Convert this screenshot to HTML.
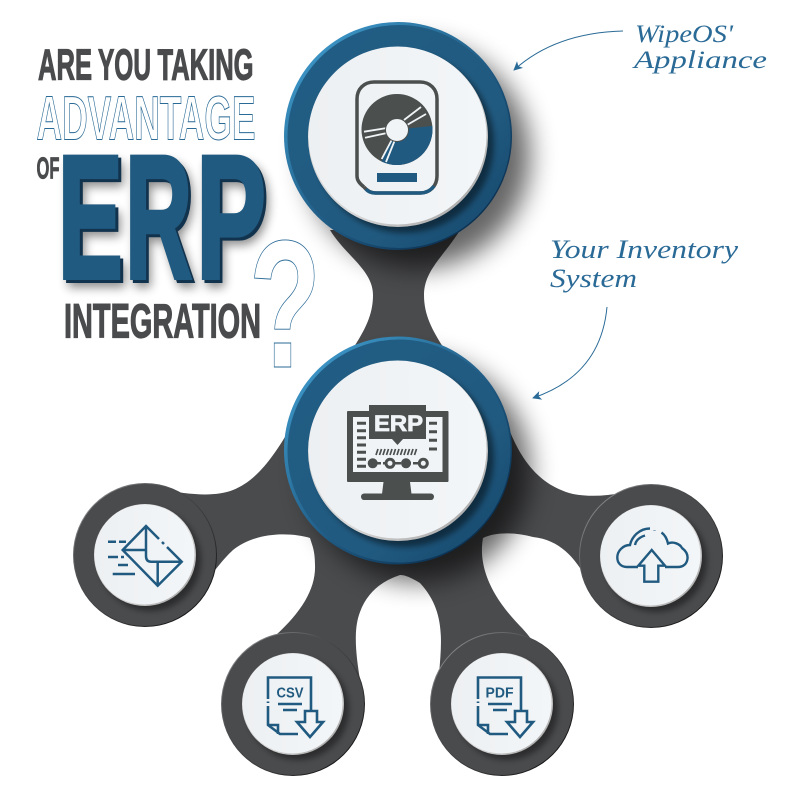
<!DOCTYPE html>
<html><head><meta charset="utf-8"><style>
html,body{margin:0;padding:0;background:#fff}
svg{display:block}
.b{font-family:"Liberation Sans",sans-serif;font-weight:700}
.s{font-family:"Liberation Serif",serif;font-style:italic;fill:#2a6a96}
</style></head><body>
<svg width="800" height="798" viewBox="0 0 800 798" xmlns="http://www.w3.org/2000/svg">
<defs>
<filter id="bl" x="-50%" y="-50%" width="200%" height="200%"><feGaussianBlur stdDeviation="13"/></filter>
<filter id="bs" x="-30%" y="-30%" width="160%" height="160%"><feGaussianBlur stdDeviation="3"/></filter>
<filter id="bt" x="-30%" y="-30%" width="160%" height="160%"><feGaussianBlur stdDeviation="5"/></filter>
<linearGradient id="edge" x1="0.1" y1="0.1" x2="0.9" y2="0.9"><stop offset="0" stop-color="#3d98c9"/><stop offset=".5" stop-color="#22608a"/><stop offset="1" stop-color="#082b4b"/></linearGradient>
<linearGradient id="ring" x1="0" y1="0" x2="1" y2="1"><stop offset="0" stop-color="#215d85"/><stop offset=".65" stop-color="#215a80"/><stop offset="1" stop-color="#144569"/></linearGradient>
<linearGradient id="wh" x1="0" y1="0" x2="1" y2="0"><stop offset="0" stop-color="#edf0f2"/><stop offset="1" stop-color="#f3f6f8"/></linearGradient>
<linearGradient id="wedge" x1="0.1" y1="0.1" x2="0.9" y2="0.9"><stop offset="0" stop-color="#d8d8d8"/><stop offset=".6" stop-color="#d8d8d8"/><stop offset="1" stop-color="#a9a9a9"/></linearGradient>
<linearGradient id="sedge" x1="0.1" y1="0.1" x2="0.9" y2="0.9"><stop offset="0" stop-color="#8d8e90"/><stop offset=".35" stop-color="#4a4b4d"/><stop offset=".7" stop-color="#333"/><stop offset="1" stop-color="#0e0e0e"/></linearGradient>
<marker id="ah" viewBox="0 0 10 10" refX="9" refY="5" markerWidth="9" markerHeight="9" orient="auto-start-reverse" markerUnits="userSpaceOnUse"><path d="M0 0L10 5L0 10L2.500 5Z" fill="#2a6a96"/></marker>
</defs>

<!-- connectors -->
<path fill="#4a4b4d" d="M330 230C345 255 373 270 373 295C373 315 365 330 352 350L445 350C432 330 424 315 424 295C424 270 445 255 460 230Z"/>
<path fill="#4a4b4d" d="M160 489C190 495 215 497 233 490C258 480 275 455 295 420L503 415C512 435 525 482 573 494C590 497 605 496 622 493L651 556L586 578C575 558 560 540 533 537C515 532 495 532 483 538C479 560 485 590 520 626C526 632 532 640 538 648L502 704L439 674C442 640 445 610 420 583C410 577 405 575 400 575C385 580 368 590 360 612C353 630 356 655 360 680L293 704L268 642C300 615 316 590 315 565C315 550 312 545 310 538C290 532 255 532 233 550C222 560 216 570 208 578L145 555Z"/>

<!-- big shadows -->
<circle cx="418" cy="156" r="112" fill="#000" opacity=".6" filter="url(#bl)"/>
<circle cx="418" cy="470" r="112" fill="#000" opacity=".6" filter="url(#bl)"/>

<!-- top circle -->
<circle cx="398" cy="136" r="114" fill="url(#edge)"/>
<circle cx="399" cy="136.500" r="111.500" fill="url(#ring)"/>
<circle cx="404" cy="143" r="90" fill="#000" opacity=".45" filter="url(#bs)"/>
<circle cx="398" cy="137" r="90" fill="url(#wedge)"/>
<circle cx="397.500" cy="135.500" r="89" fill="url(#wh)"/>

<!-- ERP circle -->
<circle cx="398" cy="450.500" r="114" fill="url(#edge)"/>
<circle cx="399" cy="451" r="111.500" fill="url(#ring)"/>
<circle cx="404" cy="457" r="90" fill="#000" opacity=".45" filter="url(#bs)"/>
<circle cx="398" cy="451" r="90" fill="url(#wedge)"/>
<circle cx="397.500" cy="449.500" r="89" fill="url(#wh)"/>

<!-- small circles -->
<circle cx="145" cy="555" r="72" fill="url(#sedge)"/><circle cx="145" cy="555" r="71" fill="#4a4b4d"/>
<circle cx="150" cy="560" r="51" fill="#000" opacity=".4" filter="url(#bs)"/>
<circle cx="145" cy="555" r="51" fill="url(#wedge)"/><circle cx="144.500" cy="554.500" r="50" fill="url(#wh)"/>

<circle cx="293" cy="704" r="72" fill="url(#sedge)"/><circle cx="293" cy="704" r="71" fill="#4a4b4d"/>
<circle cx="298" cy="709" r="51" fill="#000" opacity=".4" filter="url(#bs)"/>
<circle cx="293" cy="704" r="51" fill="url(#wedge)"/><circle cx="292.500" cy="703.500" r="50" fill="url(#wh)"/>

<circle cx="502" cy="704" r="72" fill="url(#sedge)"/><circle cx="502" cy="704" r="71" fill="#4a4b4d"/>
<circle cx="507" cy="709" r="51" fill="#000" opacity=".4" filter="url(#bs)"/>
<circle cx="502" cy="704" r="51" fill="url(#wedge)"/><circle cx="501.500" cy="703.500" r="50" fill="url(#wh)"/>

<circle cx="651" cy="556" r="72" fill="url(#sedge)"/><circle cx="651" cy="556" r="71" fill="#4a4b4d"/>
<circle cx="656" cy="561" r="51" fill="#000" opacity=".4" filter="url(#bs)"/>
<circle cx="651" cy="556" r="51" fill="url(#wedge)"/><circle cx="650.500" cy="555.500" r="50" fill="url(#wh)"/>

<!-- HDD icon -->
<path d="M364 187C368 192 372 193 376 193H420C430 193 437 186 437 176V99C437 89 430 82 420 82H374C364 82 357 89 357 99V176C357 180 359 183 364 187" fill="none" stroke="#4b4f4e" stroke-width="3.500"/>
<path d="M366 189C368 192 372 193 376 193H420C426 193 431 190 434 186" fill="none" stroke="#215a80" stroke-width="3.500"/>
<circle cx="397" cy="129.500" r="35.500" fill="#4b4f4e"/>
<path d="M397 129.500L432.300 126A35.500 35.500 0 0 1 381.500 161.500Z" fill="#215a80"/>
<path d="M404 120L421 107M407 125L426 114" stroke="#f1f4f6" stroke-width="1.800"/>
<path d="M364 131.700L387 128M365 137.700L387 133" stroke="#f1f4f6" stroke-width="1.800"/>
<path d="M391.700 140L381.700 159M394.500 141L386 162" stroke="#f1f4f6" stroke-width="1.800"/>
<circle cx="397" cy="130" r="11.500" fill="#f1f4f6" stroke="#4b4f4e" stroke-width="1"/>
<rect x="377" y="173" width="40" height="9" fill="#215a80"/>

<!-- ERP monitor icon -->
<rect x="347" y="411" width="101.500" height="71" rx="1" fill="#4b4f4e"/>
<rect x="353" y="417" width="89.500" height="55" fill="#f1f4f6"/>
<path d="M369 405H426V439H403L397.500 445L392 439H369Z" fill="#4b4f4e"/>
<text x="374" y="431" class="b" font-size="22" fill="#f1f4f6" stroke="#f1f4f6" stroke-width=".8" textLength="49" lengthAdjust="spacingAndGlyphs">ERP</text>
<path d="M357 423.300H366M357 430.700H366M357 437.700H366M357 445H366M357 452.300H366M357 459.300H366M357 466.300H366M429 423.300H437M429 431.700H437M429 440.300H437M429 449H437" stroke="#4b4f4e" stroke-width="3"/>
<path d="M376 455L378 449M379.500 455L381.500 449M383 455L385 449M386.500 455L388.500 449M390 455L392 449M393.500 455L395.500 449M397 455L399 449M400.500 455L402.500 449M404 455L406 449M407.500 455L409.500 449M411 455L413 449M414.500 455L416.500 449" stroke="#4b4f4e" stroke-width="1.700"/>
<path d="M373 463.300H423" stroke="#4b4f4e" stroke-width="2.500" stroke-dasharray="8 2"/>
<circle cx="372.700" cy="463.300" r="5" fill="#4b4f4e"/>
<circle cx="390" cy="463.300" r="4" fill="#f1f4f6" stroke="#4b4f4e" stroke-width="3"/>
<circle cx="406" cy="463.300" r="5" fill="#4b4f4e"/>
<circle cx="423.300" cy="463.300" r="4" fill="#f1f4f6" stroke="#4b4f4e" stroke-width="3"/>
<path d="M383.500 482H410L411.500 494H382Z" fill="#4b4f4e"/>
<rect x="361" y="493.500" width="73" height="6.500" rx="3.200" fill="#4b4f4e"/>

<!-- mail icon -->
<g fill="none" stroke="#215a80" stroke-width="2.500">
<path d="M159 539L146 526L122.700 550L157.700 585.700L181.700 561.700L167 547M162 542L164 544"/>
<path d="M122.700 550H146V556Q146 561.700 151 561.700H181.700M146 526V550M157.700 561.700V585.700"/>
<path d="M108 541.700H116M119 541.700H126M108 557H118M121 557H124M118 565H128M112.700 574H135"/>
</g>

<!-- CSV icon -->
<g fill="none" stroke="#215a80" stroke-width="2.600">
<path d="M268 699V677.500H311V710M268 701.500V703M268 706V725L280 734H298"/>
<path d="M268 725H278V734"/>
<path d="M305 711H317V722H323L310 737L297 722H305Z"/>
<path d="M278 704H302M283 710H297"/>
</g>
<text x="276.500" y="697.500" class="b" font-size="14.500" fill="#215a80" textLength="27" lengthAdjust="spacingAndGlyphs">CSV</text>

<!-- PDF icon -->
<g fill="none" stroke="#215a80" stroke-width="2.600" transform="translate(210 0)">
<path d="M268 699V677.500H311V710M268 701.500V703M268 706V725L280 734H298"/>
<path d="M268 725H278V734"/>
<path d="M305 711H317V722H323L310 737L297 722H305Z"/>
<path d="M278 704H302M283 710H297"/>
</g>
<text x="485.500" y="697.500" class="b" font-size="14.500" fill="#215a80" textLength="28" lengthAdjust="spacingAndGlyphs">PDF</text>

<!-- cloud icon -->
<g fill="none" stroke="#215a80" stroke-width="2.400">
<path d="M638 567H627C621 567 617.300 563 617.300 557.500C617.300 551 623 545 630 545C632 536 640 528.500 650 528.500M654.500 530V530.500M661.500 532.500C665 535 667 539 668 543.500C673 541 680 544 682 548C686 551 688 554 687.500 558.500C687 564 683 567 678 567H665"/>
<path d="M635 545C636 540 640 537 645 535.500"/>
<path d="M651.700 550L638.300 565.700H644.300V581.700H658.300V565.700H665Z"/>
</g>

<!-- title -->
<g class="b" font-size="44" fill="#4a4b4d" stroke="#4a4b4d" stroke-width="1.200">
<text x="38" y="79.500" textLength="54" lengthAdjust="spacingAndGlyphs">ARE</text>
<text x="98" y="79.500" textLength="53" lengthAdjust="spacingAndGlyphs">YOU</text>
<text x="157.500" y="79.500" textLength="96" lengthAdjust="spacingAndGlyphs">TAKING</text>
</g>
<text x="36.500" y="139.500" class="b" font-size="62" fill="#fff" stroke="#2a6a96" stroke-width="1" textLength="219" lengthAdjust="spacingAndGlyphs">ADVANTAGE</text>
<text x="36.500" y="178.500" class="b" font-size="31" fill="#4a4b4d" stroke="#4a4b4d" stroke-width=".8" textLength="23" lengthAdjust="spacingAndGlyphs">OF</text>
<g class="b" font-size="175" fill="#000" opacity=".45" stroke="#000" stroke-width="5" filter="url(#bt)">
<text x="63" y="285" textLength="64.600" lengthAdjust="spacingAndGlyphs">E</text>
<text x="130" y="285" textLength="66.700" lengthAdjust="spacingAndGlyphs">R</text>
<text x="201" y="285" textLength="69.500" lengthAdjust="spacingAndGlyphs">P</text>
</g>
<g class="b" font-size="175" fill="#12334d" stroke="#12334d" stroke-width="5">
<text x="61" y="280.500" textLength="64.600" lengthAdjust="spacingAndGlyphs">E</text>
<text x="128" y="280.500" textLength="66.700" lengthAdjust="spacingAndGlyphs">R</text>
<text x="199" y="280.500" textLength="69.500" lengthAdjust="spacingAndGlyphs">P</text>
</g>
<g class="b" font-size="175" fill="#215a80" stroke="#215a80" stroke-width="5">
<text x="58" y="277.500" textLength="64.600" lengthAdjust="spacingAndGlyphs">E</text>
<text x="125.300" y="277.500" textLength="66.700" lengthAdjust="spacingAndGlyphs">R</text>
<text x="196.400" y="277.500" textLength="69.500" lengthAdjust="spacingAndGlyphs">P</text>
</g>
<text x="64" y="337.500" class="b" font-size="48" fill="#4a4b4d" stroke="#4a4b4d" stroke-width="1.200" textLength="197" lengthAdjust="spacingAndGlyphs">INTEGRATION</text>
<text x="249" y="367" class="b" font-size="182" fill="#fff" stroke="#2a6a96" stroke-width=".9" textLength="72" lengthAdjust="spacingAndGlyphs">?</text>

<!-- arrows -->
<path d="M623 31C585 32 545 42 514 70" fill="none" stroke="#2a6a96" stroke-width="1" marker-end="url(#ah)"/>
<path d="M607 307C603 350 580 382 533 398" fill="none" stroke="#2a6a96" stroke-width="1" marker-end="url(#ah)"/>

<!-- handwriting -->
<text x="635" y="42" class="s" font-size="25" textLength="98" lengthAdjust="spacingAndGlyphs">WipeOS'</text>
<text x="634" y="68" class="s" font-size="25" textLength="133" lengthAdjust="spacingAndGlyphs">Appliance</text>
<text x="550" y="258" class="s" font-size="26" textLength="188" lengthAdjust="spacingAndGlyphs">Your Inventory</text>
<text x="550" y="287" class="s" font-size="26" textLength="87" lengthAdjust="spacingAndGlyphs">System</text>
</svg>
</body></html>
